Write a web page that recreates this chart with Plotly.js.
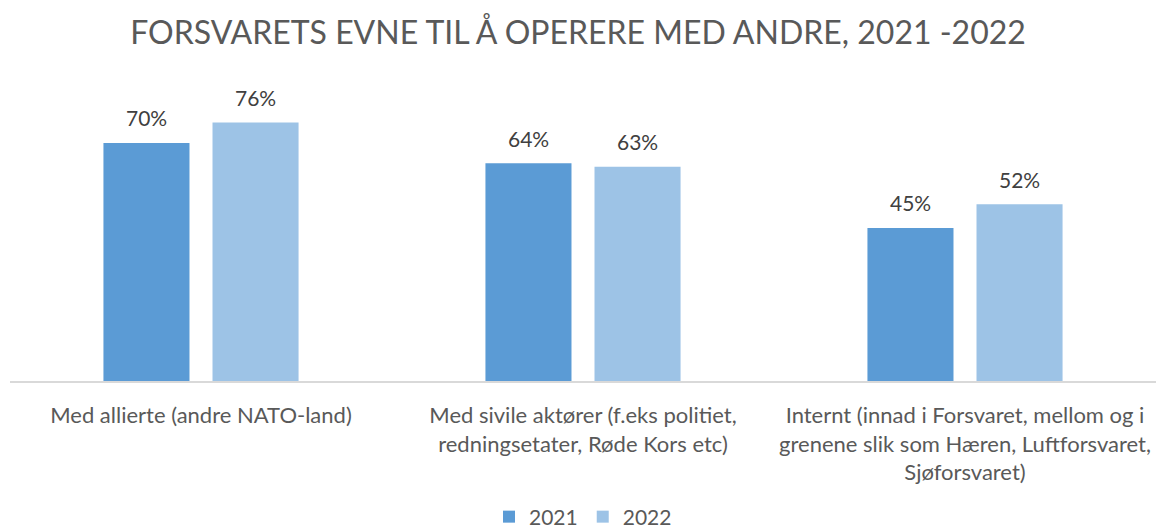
<!DOCTYPE html>
<html><head><meta charset="utf-8">
<script src="https://cdn.plot.ly/plotly-3.0.1.min.js"></script>
<style>body{margin:0;padding:0;background:#fff}#chart{width:1156px;height:532px}</style>
</head><body><div id="chart"></div>
<script>
const categories = [
  "Med allierte (andre NATO-land)",
  "Med sivile aktører (f.eks politiet,<br>redningsetater, Røde Kors etc)",
  "Internt (innad i Forsvaret, mellom og i<br>grenene slik som Hæren, Luftforsvaret,<br>Sjøforsvaret)"
];
const series2021 = [70, 64, 45];
const series2022 = [76, 63, 52];
const seriesNames = ["2021", "2022"];
const colors = ["#5B9BD5", "#9DC3E6"];

const FONT = "Lato, 'Open Sans', sans-serif";
const traces = [series2021, series2022].map((vals, i) => ({
  type: "bar", name: seriesNames[i], x: categories, y: vals,
  marker: {color: colors[i]}, hoverinfo: "skip"
}));

const annotations = [];
[series2021, series2022].forEach((vals, i) => {
  vals.forEach((v, j) => {
    annotations.push({
      x: categories[j], y: v, xref: "x", yref: "y",
      text: v + "%", showarrow: false,
      xshift: i === 0 ? -54.5 : 54.5, yshift: 25, yanchor: "middle",
      font: {family: FONT, size: 21, color: "#404040"}
    });
  });
});

const layout = {
  width: 1156, height: 532,
  margin: {l: 10, r: 0, t: 80, b: 151},
  paper_bgcolor: "#fff", plot_bgcolor: "#fff",
  title: {text: "FORSVARETS EVNE TIL Å OPERERE MED ANDRE, 2021 -2022",
    font: {family: FONT, size: 32, color: "#595959"},
    x: 0.5, xanchor: "center", y: 1 - 33/532, yanchor: "middle", yref: "container"},
  barmode: "group", bargap: 0.429, bargroupgap: 0.211,
  xaxis: {showline: true, linecolor: "#D9D9D9", linewidth: 1.5, ticks: "",
    tickfont: {family: FONT, size: 22, color: "#595959"}, ticklabelstandoff: 14},
  yaxis: {range: [0, 88.5], visible: false, showgrid: false, zeroline: false},
  showlegend: true,
  legend: {orientation: "h", x: 0.5, xanchor: "center", yref: "container", y: 15/532, yanchor: "middle",
    font: {family: FONT, size: 21, color: "#595959"}, itemwidth: 30},
  annotations: annotations
};
Plotly.newPlot("chart", traces, layout, {displayModeBar: false, staticPlot: true});
</script></body></html>
